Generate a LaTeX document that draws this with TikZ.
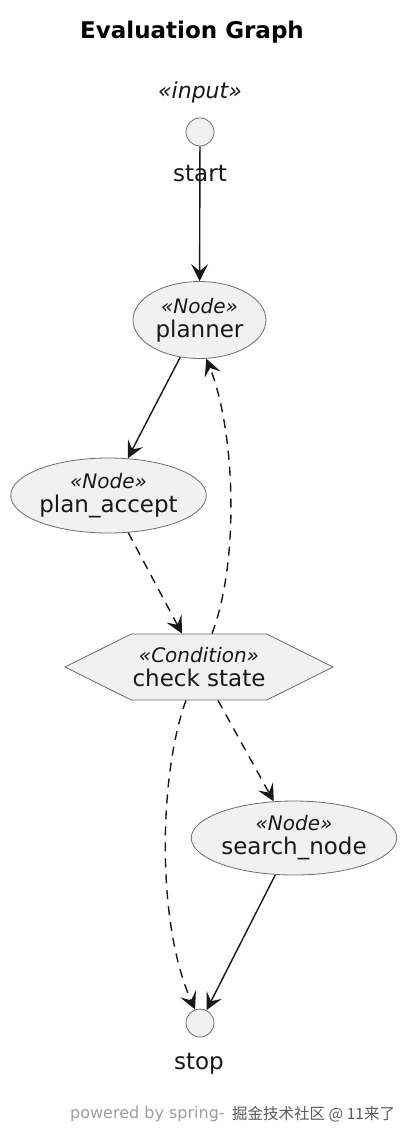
\documentclass[tikz,border=0pt]{standalone}
\usepackage{fontspec}
\setmainfont{DejaVu Sans}
\newfontfamily\cjk{Noto Sans CJK SC}
\usetikzlibrary{shapes.geometric,shapes.symbols,arrows.meta}
\definecolor{nodefill}{HTML}{F1F1F1}
\definecolor{linec}{HTML}{181818}
\definecolor{bordc}{HTML}{6E6E6E}
\begin{document}
\begin{tikzpicture}[x=1pt,y=-1pt,
  shapebase/.style={draw=bordc, fill=nodefill, line width=0.8pt, inner sep=0pt, align=center, text=linec, font=\fontsize{23}{24}\selectfont},
  ell/.style={shapebase, ellipse},
  dot/.style={draw=bordc, fill=nodefill, circle, minimum size=28pt, inner sep=0pt, line width=0.8pt},
  lbl/.style={font=\fontsize{23}{26}\selectfont, inner sep=0pt, text=linec},
  flow/.style={draw=linec, line width=1.4pt, -{Stealth[length=17pt,width=17pt,inset=7pt]}},
  dflow/.style={flow, dash pattern=on 9pt off 7pt},
]
\newcommand{\stereo}[1]{{\fontsize{20}{22}\selectfont\itshape «#1»}}
\fill[white] (0,0) rectangle (403,1138);
\useasboundingbox (0,0) rectangle (403,1138);

\node[font=\bfseries\fontsize{23}{26}\selectfont, text=black, inner sep=0pt] (title) at (192,32) {Evaluation Graph};

\node[font=\itshape\fontsize{22}{24}\selectfont, inner sep=0pt, text=linec] (instereo) at (200,92) {«input»};
\node[dot] (start) at (200,132) {};
\node[lbl] (startlbl) at (200,174) {start};

\node[ell, minimum width=133pt, minimum height=77pt] (planner) at (199.5,320) {\stereo{Node}\\planner};
\node[ell, minimum width=191pt, minimum height=75pt] (accept) at (108.5,495.5) {\stereo{Node}\\plan\_accept};
\node[shapebase, signal, signal to=west and east, signal pointer angle=53, minimum width=268pt, minimum height=66pt] (check) at (199,667) {\stereo{Condition}\\check state};
\node[ell, minimum width=198pt, minimum height=74pt] (search) at (294,838) {\stereo{Node}\\search\_node};

\node[dot] (stop) at (200,1023) {};
\node[lbl] (stoplbl) at (199,1064) {stop};

\node[font=\fontsize{16}{18}\selectfont, text=gray!75, anchor=west, inner sep=0pt] (footer) at (70,1114) {powered by spring-};
\node[font=\cjk\fontsize{15.5}{18}\selectfont, text=gray!70!black, anchor=west, inner sep=0pt] (mark) at (232,1114) {掘金技术社区 @ 11来了};

% edges
\draw[flow] (start) -- (planner);
\draw[flow] (planner) -- (accept);
\draw[dflow] (accept) -- ([xshift=-17pt]check.north);
\draw[dflow] ([xshift=13pt]check.north) .. controls (240,560) and (235,430) .. (planner.-80);
\draw[dflow] ([xshift=19pt]check.south) -- (search);
\draw[dflow] ([xshift=-13pt]check.south) .. controls (160,770) and (155,920) .. (stop.110);
\draw[flow] (search) -- (stop);
\end{tikzpicture}
\end{document}
